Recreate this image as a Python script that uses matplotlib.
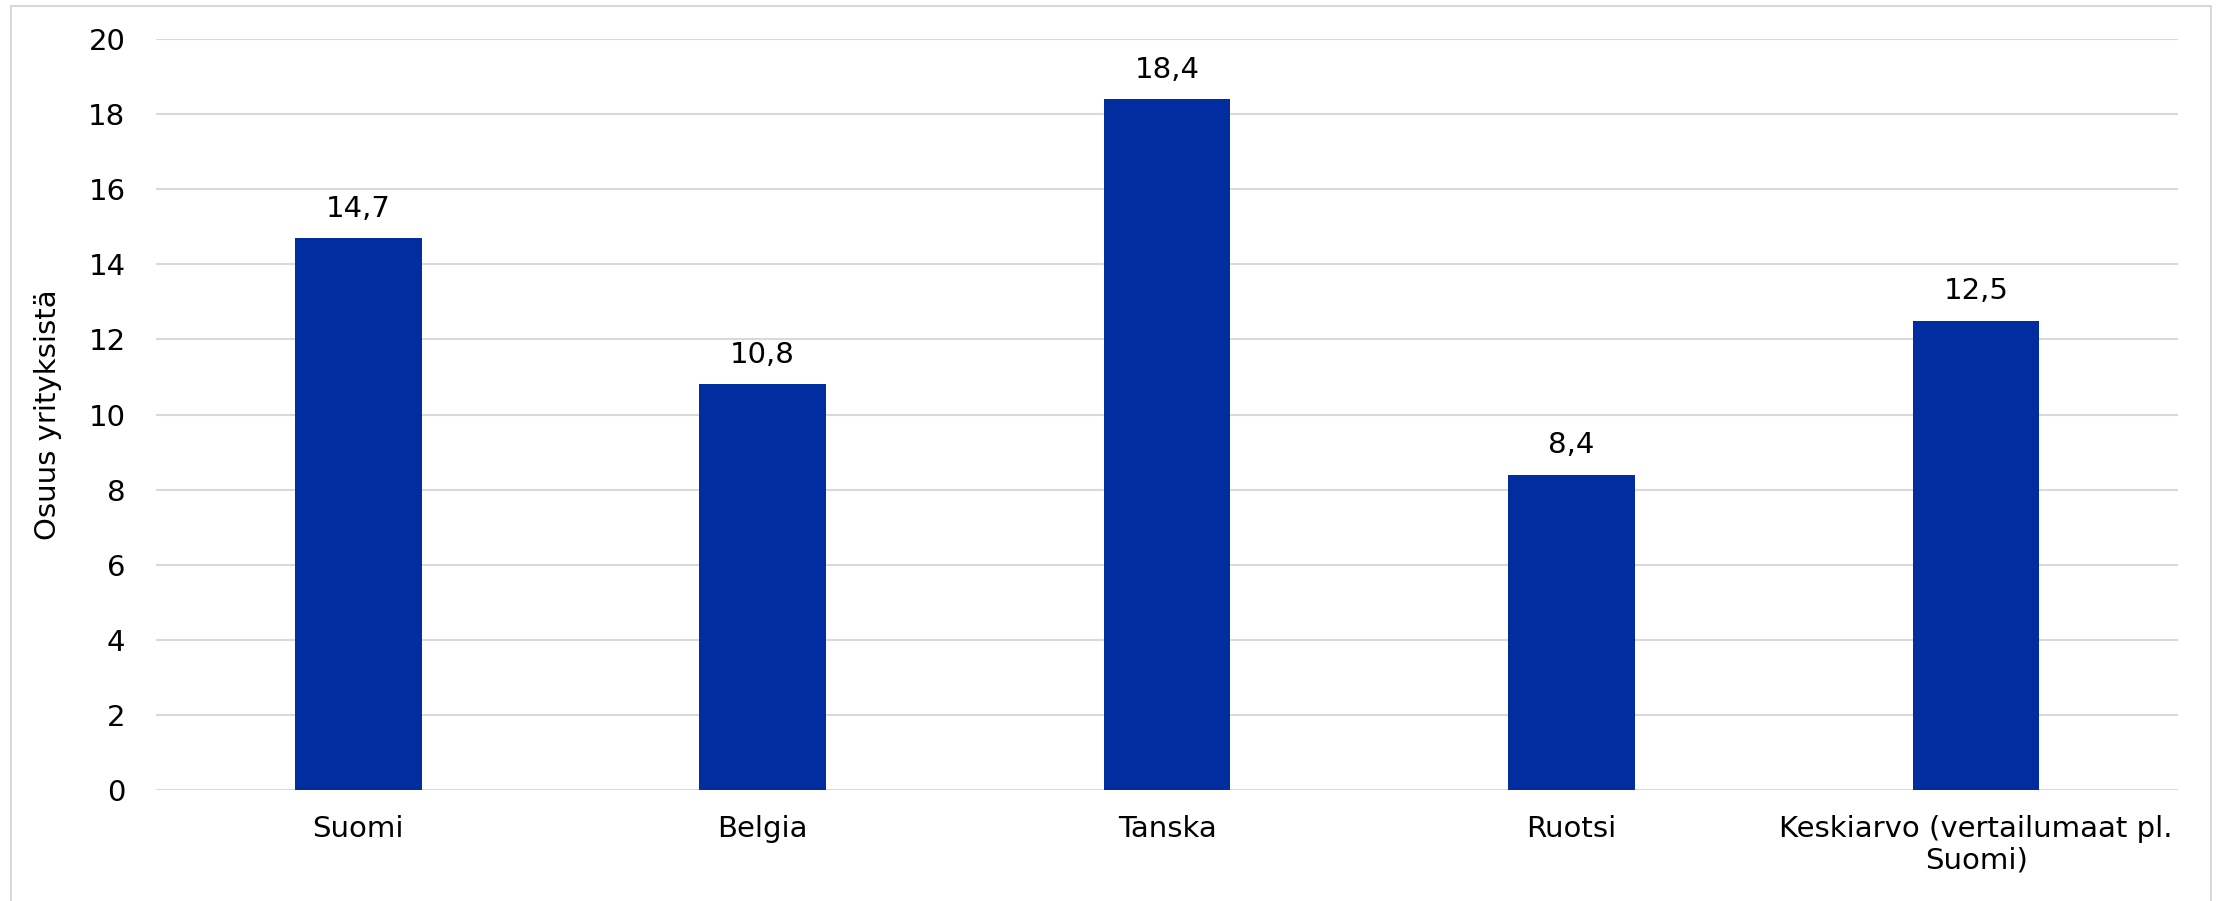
import matplotlib.pyplot as plt
from matplotlib.patches import Rectangle
import numpy as np

# osuus yrityksistä maittain
maat = ["Suomi", "Belgia", "Tanska", "Ruotsi", "Keskiarvo (vertailumaat pl.\nSuomi)"]
osuus = [14.7, 10.8, 18.4, 8.4, 12.5]
yticks = np.arange(0, 21, 2)

plt.rcParams['font.family'] = ['DejaVu Sans']
plt.rcParams['font.size'] = 21

fig = plt.figure(figsize=(22.16, 9.01), dpi=100)
ax = fig.add_axes([0.0704, 0.1232, 0.9126, 0.8335])

x = np.arange(len(maat))
bars = ax.bar(x, osuus, width=0.313, color='#022DA1', zorder=3)

for xi, v in zip(x, osuus):
    ax.annotate(f"{v:.1f}".replace('.', ','), (xi, v), xytext=(0, 11),
                textcoords='offset points', ha='center', va='bottom', fontsize=21)

ax.set_xlim(-0.5, len(maat) - 0.5)
ax.set_ylim(0, 20)
ax.set_yticks(yticks)
ax.set_xticks(x)
ax.set_xticklabels(maat, linespacing=1.15)
ax.tick_params(length=0)
ax.tick_params(axis='y', pad=22)
ax.tick_params(axis='x', pad=18)
ax.grid(axis='y', color='#d9d9d9', lw=1.5, zorder=0)
for s in ax.spines.values():
    s.set_visible(False)

ax.set_ylabel("Osuus yrityksistä", fontsize=21)
ax.yaxis.set_label_coords(-0.0466, 0.5)

# kehys kuvan ympärillä
fig.patches.append(Rectangle((11 / 2216, -0.05), 2200 / 2216, 1.05 - 6 / 901,
                             transform=fig.transFigure, fill=False,
                             edgecolor='#d9d9d9', lw=1.5))

fig.savefig("out.png", dpi=100)
